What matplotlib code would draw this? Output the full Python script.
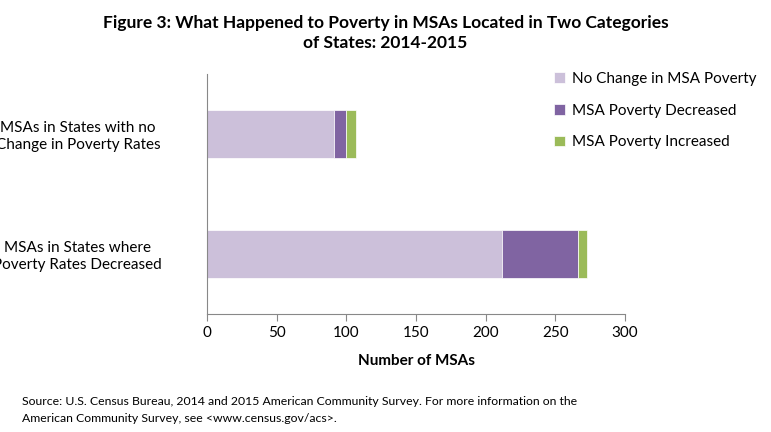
import matplotlib
matplotlib.use("Agg")
import matplotlib.pyplot as plt

categories = ["MSAs in States with no\nChange in Poverty Rates", "MSAs in States where\nPoverty Rates Decreased"]
no_change = [91, 212]
decreased = [9, 54]
increased = [7, 7]
series_names = ["No Change in MSA Poverty", "MSA Poverty Decreased", "MSA Poverty Increased"]
colors = ["#CCC0DA", "#8064A2", "#9BBB59"]

plt.rcParams['font.family'] = ['Lato', 'DejaVu Sans']
fig = plt.figure(figsize=(7.71, 4.32), dpi=100)
ax = fig.add_axes([207/771, 1-314/432, 418/771, 240/432])
y = [0, 1]
left = [0, 0]
for vals, name, c in zip([no_change, decreased, increased], series_names, colors):
    ax.barh(y, vals, left=left, height=0.4, color=c, label=name, edgecolor='white', linewidth=0.5)
    left = [a + b for a, b in zip(left, vals)]
ax.set_ylim(1.5, -0.5)
ax.set_xlim(0, 300)
ax.set_xticks(range(0, 301, 50))
ax.set_yticks(y)
ax.set_yticklabels(categories, fontsize=11, ha='center')
ax.tick_params(axis='y', length=0, pad=93)
ax.tick_params(axis='x', labelsize=11, color='#888888', length=5)
for s in ['top', 'right']:
    ax.spines[s].set_visible(False)
for s in ['left', 'bottom']:
    ax.spines[s].set_color('#888888')
ax.set_xlabel("Number of MSAs", fontsize=11, fontweight='bold', labelpad=10)
fig.text(0.5, 0.965, "Figure 3: What Happened to Poverty in MSAs Located in Two Categories\nof States: 2014-2015",
         ha='center', va='top', fontsize=12.5, fontweight='bold', linespacing=1.3)
fig.legend(loc='upper left', bbox_to_anchor=(548/771, 1-66/432), frameon=False, fontsize=11,
           handlelength=0.7, handleheight=0.7, handletextpad=0.5, labelspacing=1.15, borderaxespad=0)
fig.text(22/771, 1-410/432, "Source: U.S. Census Bureau, 2014 and 2015 American Community Survey. For more information on the\nAmerican Community Survey, see <www.census.gov/acs>.",
         ha='left', va='center', fontsize=8.8, linespacing=1.6)
fig.savefig("out.png", dpi=100)
